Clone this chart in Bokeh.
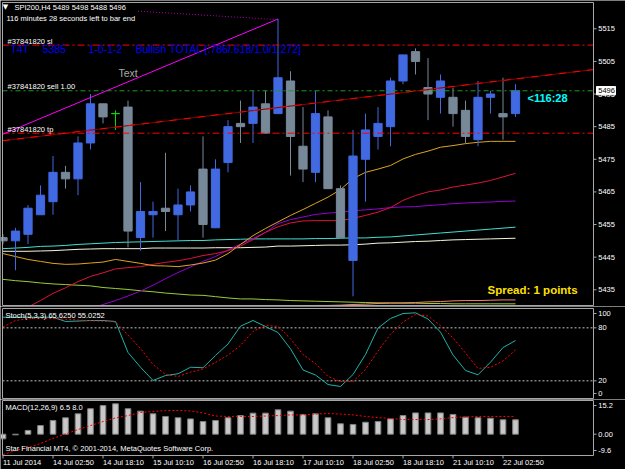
import numpy as np
from bokeh.plotting import figure
from bokeh.layouts import column
from bokeh.models import ColumnDataSource, Range1d, Label
from bokeh.core.properties import value
from bokeh.embed import file_html
from bokeh.resources import INLINE

# ---------------- data ----------------
opens = [5451, 5450, 5452, 5458, 5462, 5471, 5469, 5480, 5492, 5489, 5491, 5451, 5458, 5460,
         5458, 5461, 5472, 5454, 5474, 5486, 5486, 5492, 5489, 5499, 5479, 5471, 5488, 5466,
         5444, 5475, 5482, 5485, 5499, 5508, 5497, 5494, 5494, 5490, 5481, 5494, 5489, 5489]
highs = [5452, 5454, 5461, 5467, 5476, 5473, 5482, 5495, 5492, 5490, 5493, 5468, 5462, 5477,
         5466, 5467, 5482, 5475, 5487, 5493, 5496, 5496, 5518, 5502, 5491, 5496, 5490, 5467,
         5484, 5489, 5491, 5500, 5507, 5509, 5506, 5501, 5497, 5493, 5499, 5496, 5500, 5498]
lows = [5449, 5441, 5449, 5458, 5458, 5466, 5464, 5478, 5486, 5484, 5448, 5447, 5451, 5453,
        5450, 5459, 5451, 5454, 5471, 5480, 5480, 5483, 5489, 5470, 5468, 5468, 5466, 5451,
        5433, 5462, 5478, 5479, 5498, 5501, 5487, 5489, 5485, 5480, 5479, 5489, 5481, 5488]
closes = [5450, 5453, 5460, 5464, 5471, 5469, 5480, 5492, 5488, 5489, 5453, 5459, 5459, 5459,
          5461, 5465, 5455, 5472, 5485, 5485, 5491, 5483, 5500, 5482, 5472, 5489, 5466, 5451,
          5476, 5484, 5486, 5499, 5507, 5505, 5495, 5499, 5489, 5482, 5494, 5495, 5488, 5496]

ma_orange = [5446.1, 5445.2, 5444.3, 5443.7, 5443.1, 5442.8, 5442.9, 5443.2, 5443.5, 5444.3,
             5443.7, 5443.1, 5442.4, 5442.3, 5442.1, 5442.6, 5443.2, 5444.1, 5446.1, 5448.9,
             5451.6, 5453.8, 5455.8, 5457.8, 5459.6, 5461.5, 5463.4, 5465.7, 5469.1, 5471.0,
             5472.0, 5473.1, 5475.1, 5476.5, 5477.5, 5478.7, 5479.2, 5479.8, 5480.2, 5480.5,
             5480.5, 5480.5]
ma_red = [None, 5427.7, 5429.7, 5431.7, 5433.9, 5435.6, 5437.5, 5439.1, 5440.2, 5441.4,
          5441.8, 5442.1, 5442.8, 5443.4, 5443.9, 5444.6, 5445.5, 5446.1, 5447.0, 5448.4,
          5450.4, 5452.6, 5454.3, 5455.5, 5456.1, 5456.2, 5456.2, 5456.2, 5456.9, 5457.8,
          5458.8, 5460.2, 5462.4, 5463.9, 5465.0, 5465.6, 5466.5, 5467.1, 5467.7, 5468.5,
          5469.6, 5470.7]
ma_purple = [None, None, None, None, None, None, 5427.9, 5429.2, 5430.5, 5431.7,
             5433.1, 5434.6, 5436.4, 5438.4, 5440.3, 5442.0, 5443.7, 5445.2, 5447.2, 5449.0,
             5450.7, 5452.6, 5455.3, 5456.5, 5457.3, 5458.1, 5458.5, 5458.8, 5459.2, 5459.5,
             5459.8, 5460.2, 5460.4, 5460.5, 5460.8, 5461.1, 5461.4, 5461.6, 5461.8, 5461.9,
             5462.1, 5462.2]
ma_cyan = [5447.6, 5447.8, 5448.0, 5448.3, 5448.4, 5448.6, 5448.9, 5449.1, 5449.3, 5449.5,
           5449.6, 5449.7, 5449.8, 5449.9, 5450.0, 5450.1, 5450.1, 5450.3, 5450.4, 5450.5,
           5450.6, 5450.6, 5450.6, 5450.6, 5450.6, 5450.7, 5450.7, 5450.8, 5450.9, 5450.9,
           5451.1, 5451.2, 5451.5, 5451.8, 5452.1, 5452.4, 5452.7, 5453.0, 5453.3, 5453.6,
           5453.9, 5454.2]
ma_white = [5446.8, 5446.8, 5446.8, 5446.9, 5447.0, 5447.2, 5447.4, 5447.5, 5447.6, 5447.6,
            5447.6, 5447.6, 5447.8, 5447.8, 5447.8, 5447.8, 5447.8, 5447.9, 5447.9, 5447.9,
            5448.0, 5448.1, 5448.4, 5448.4, 5448.5, 5448.6, 5448.7, 5448.7, 5448.8, 5449.0,
            5449.3, 5449.4, 5449.6, 5449.8, 5449.9, 5450.1, 5450.3, 5450.4, 5450.5, 5450.6,
            5450.7, 5450.8]
ma_yellowgreen = [5438.2, 5437.8, 5437.5, 5437.1, 5436.8, 5436.6, 5436.4, 5436.2, 5435.7, 5435.4,
                  5435.1, 5434.7, 5434.4, 5434.0, 5433.7, 5433.4, 5433.3, 5432.9, 5432.5, 5432.2,
                  5432.2, 5432.0, 5431.9, 5431.7, 5431.6, 5431.5, 5431.4, 5431.3, 5431.2, 5431.1,
                  5431.0, 5431.0, 5430.9, 5430.9, 5430.8, 5430.8, 5430.7, 5430.7, 5430.7, 5430.7,
                  5430.7, 5430.7]
ma_salmon = [None] * 18 + [5429.6, 5429.7, 5429.9, 5429.9, 5430.0, 5430.1, 5430.1, 5430.2,
                           5430.2, 5430.3, 5430.5, 5430.6, 5430.8, 5430.9, 5431.0, 5431.1,
                           5431.3, 5431.4, 5431.6, 5431.7, 5431.7, 5431.8, 5431.9, 5431.9]

stoch_main = [92.0, 92.0, 92.0, 92.0, 92.0, 87.2, 87.7, 88.3, 88.3, 87.2,
              52.1, 35.4, 20.4, 26.0, 28.0, 35.4, 34.8, 48.7, 61.7, 81.9,
              88.3, 81.5, 74.7, 56.3, 32.3, 26.6, 15.8, 13.6, 27.2, 49.8,
              79.8, 90.6, 96.2, 97.0, 90.0, 75.1, 49.2, 31.7, 26.8, 41.1,
              57.7, 65.6]
stoch_signal = [80.9, 88.3, 90.2, 90.8, 90.6, 89.7, 88.8, 88.0, 87.5, 86.6,
                71.9, 56.6, 38.5, 27.2, 24.9, 29.8, 33.4, 40.8, 49.1, 60.0,
                75.9, 82.6, 81.7, 67.6, 49.8, 39.6, 24.9, 19.2, 19.2, 32.8,
                53.8, 72.5, 86.6, 95.1, 93.4, 82.6, 68.5, 51.5, 34.0, 35.4,
                42.5, 55.0]
macd_hist = [-2.1, -0.3, 1.7, 3.9, 6.2, 7.4, 9.2, 11.5, 12.9, 13.7,
             11.5, 10.4, 9.2, 8.0, 7.4, 6.9, 5.7, 6.2, 7.4, 8.4,
             9.5, 9.5, 11.0, 10.4, 8.9, 9.2, 7.4, 4.7, 4.4, 5.4,
             5.7, 6.9, 8.4, 9.6, 9.6, 9.6, 8.9, 7.7, 7.4, 7.2,
             6.5, 6.5]
macd_signal = [-9.2, -7.4, -6.0, -4.2, -1.9, 0.1, 2.1, 3.9, 5.7, 7.3,
               8.4, 9.8, 10.2, 10.7, 10.7, 10.5, 9.6, 8.2, 8.0, 8.0,
               8.0, 8.2, 8.4, 8.7, 8.7, 9.1, 9.3, 9.1, 8.7, 8.0,
               7.5, 7.1, 6.6, 6.6, 6.6, 6.9, 7.5, 7.8, 8.0, 8.0,
               8.0, 8.0]

time_tick_bars = [0, 4, 8, 12, 16, 20, 24, 28, 32, 36, 40]
time_tick_labels = ["11 Jul 2014", "14 Jul 02:50", "14 Jul 18:10", "15 Jul 10:10", "16 Jul 02:50",
                    "16 Jul 18:10", "17 Jul 10:10", "18 Jul 02:50", "18 Jul 18:10", "21 Jul 10:10",
                    "22 Jul 02:50"]
price_ticks = [5435, 5445, 5455, 5465, 5475, 5485, 5495, 5505, 5515]
price_tick_labels = [str(t) for t in price_ticks]
stoch_levels = [20, 80]
stoch_tick_pos = [5.7, 20, 80, 96.2]          # MT4 pulls the 0 / 100 labels inside
stoch_tick_labels = ["0", "20", "80", "100"]
macd_tick_pos = [-7.35, 0, 12.94]              # MT4 pulls the min / max labels inside
macd_tick_labels = ["-9.6", "0.00", "15.2"]
macd_min, macd_max = -9.6, 15.2

sl_price, open_price, tp_price = 5510, 5496, 5483
trend_red_x, trend_red_y = [0, 47.24], [5480.7, 5502.5]
trend_mag_x, trend_mag_y = [0, 22], [5482.7, 5518.0]
trend_dot_x, trend_dot_y = [10.8, 22], [5520.4, 5517.8]
bid = 5496

# ---------------- styling / layout ----------------
FONT = "Liberation Sans"
SMALL = "7.5px"
BORDER = "#A8A8A8"
X_LEFT, X_AXIS = -0.04, 47.24      # left border and price-axis line, in bar units
TICK_LEN, LABEL_DX = 0.24, 0.38
P_TOP, P_BOT = 5523.06, 5430.19    # main window edges (price)
S_TOP, S_BOT = 101.89, 0.0         # stochastic window edges
n = len(opens)
bars = list(range(n))
xr = Range1d(-0.2, 49.8)


def make_fig(height, yr):
    return figure(width=625, height=height, x_range=xr, y_range=yr,
                  x_axis_type=None, y_axis_type=None, toolbar_location=None,
                  output_backend="svg", min_border=0,
                  background_fill_color="black", border_fill_color="black",
                  outline_line_color=None)


def window(p, top, bot):
    p.segment(x0=[X_LEFT, X_LEFT, X_LEFT, X_AXIS], y0=[top, top, bot, top],
              x1=[X_AXIS, X_LEFT, X_AXIS, X_AXIS], y1=[top, bot, bot, bot],
              line_color=BORDER, line_width=1)


def right_ticks(p, pos, labels):
    k = len(pos)
    p.segment(x0=[X_AXIS] * k, y0=pos, x1=[X_AXIS + TICK_LEN] * k, y1=pos,
              line_color=BORDER, line_width=1)
    p.text(x=[X_AXIS + LABEL_DX] * k, y=pos, text=labels, text_color="white",
           text_font=value(FONT), text_font_size=SMALL, text_baseline="middle",
           text_align="left")


def lab(p, x, y, text, color="white", size=SMALL, font=FONT, style="normal", align="left"):
    p.add_layout(Label(x=x, y=y, text=text, text_color=color, text_font_size=size,
                       text_font=font, text_font_style=style, text_align=align,
                       text_baseline="middle"))


# ---------------- main window ----------------
p1 = make_fig(306, Range1d(5429.88, 5523.67))

arr = lambda v: np.array(v, dtype=float)
for vals, col in [(ma_yellowgreen, "#9ACD32"), (ma_salmon, "#FA8072"), (ma_white, "#F5F5DC"),
                  (ma_cyan, "#40E0D0"), (ma_purple, "#9400D3"), (ma_red, "#DC143C"),
                  (ma_orange, "#DAA520")]:
    p1.line(bars, arr(vals), line_color=col, line_width=1)

UP, DN, DOJI = "#4169E1", "#778899", "#00E000"
cols = [UP if c > o else (DN if c < o else DOJI) for o, c in zip(opens, closes)]
src = ColumnDataSource(dict(x=bars, h=highs, l=lows,
                            top=[max(o, c) for o, c in zip(opens, closes)],
                            bot=[min(o, c) for o, c in zip(opens, closes)], col=cols))
p1.segment(x0="x", y0="l", x1="x", y1="h", line_color="col", line_width=1, source=src)
p1.vbar(x="x", width=0.66, top="top", bottom="bot", fill_color="col", line_color="col",
        line_width=1, source=src)

# order lines and trend lines
for lvl, col, dash in [(sl_price, "#FF0000", "7 3 2 3"), (tp_price, "#FF0000", "7 3 2 3"),
                       (open_price, "#1C9A1C", "5 3 2 3")]:
    p1.line([X_LEFT, X_AXIS], [lvl, lvl], line_color=col, line_dash=dash, line_width=1)
p1.line(trend_red_x, trend_red_y, line_color="#8B0000", line_width=1)
p1.line(trend_red_x, trend_red_y, line_color="#FF0000", line_width=1, line_dash="7 7")
p1.line(trend_mag_x, trend_mag_y, line_color="#FF00FF", line_width=1)
p1.line(trend_dot_x, trend_dot_y, line_color="#B000B0", line_width=1, line_dash="1 2")

window(p1, P_TOP, P_BOT)
right_ticks(p1, price_ticks, price_tick_labels)
# bid price box on the price scale
p1.quad(left=[X_AXIS + 0.24], right=[X_AXIS + 1.76], top=[bid + 1.3], bottom=[bid - 1.25],
        fill_color="white", line_color="white")
p1.text(x=[X_AXIS + LABEL_DX], y=[bid], text=[str(bid)], text_color="black",
        text_font=value(FONT), text_font_size=SMALL, text_baseline="middle", text_align="left")

# texts
lab(p1, 0.2, 5521.6, "\u25BC", font="DejaVu Sans", size="7px", align="center")
lab(p1, 0.92, 5521.5, "SPI200,H4  5489 5498 5488 5496")
lab(p1, 0.28, 5518.1, "116 minutes 28 seconds left to bar end")
lab(p1, 0.36, 5511.2, "#37841820 sl")
lab(p1, 0.36, 5497.4, "#37841820 sell 1.00")
lab(p1, 0.36, 5484.2, "#37841820 tp")
for bx, t in [(0.6, "T4T"), (3.16, "5385"), (6.84, "1-0-1-2"),
              (10.6, "Bullish TOTAL [.786/.618/1.0/1.272]")]:
    lab(p1, bx, 5508.9, t, color="#0000FF", size="10.5px")
lab(p1, 9.24, 5501.3, "Text", color="#A9A9A9", size="10.5px")
lab(p1, 41.96, 5493.9, "<116:28", color="#00FFFF", size="11px", style="bold")
lab(p1, 38.76, 5434.8, "Spread: 1 points", color="#FFE000", size="11.5px", style="bold")

# ---------------- stochastic window ----------------
p2 = make_fig(93, Range1d(-1.13, 104.15))
for lvl in stoch_levels:
    p2.line([X_LEFT, X_AXIS], [lvl, lvl], line_color="#C0C0C0", line_dash="2 2", line_width=1)
p2.line(bars, stoch_main, line_color="#20B2AA", line_width=1)
p2.line(bars, stoch_signal, line_color="#FF0000", line_width=1, line_dash="2 2")
window(p2, S_TOP, S_BOT)
right_ticks(p2, stoch_tick_pos, stoch_tick_labels)
lab(p2, 0.2, 94.0, "Stoch(5,3,3) 65.6250 55.0252")

# ---------------- MACD window ----------------
p3 = make_fig(70, Range1d(-15.92, 15.65))
p3.vbar(x=bars, top=macd_hist, bottom=0, width=0.45, fill_color="#C8C8C8",
        line_color="#7F7F7F", line_width=1)
p3.line(bars, macd_signal, line_color="#FF0000", line_width=1, line_dash="2 2")
window(p3, macd_max, macd_min)
right_ticks(p3, macd_tick_pos, macd_tick_labels)
# time scale under the MACD window
k = len(time_tick_bars)
p3.segment(x0=time_tick_bars, y0=[macd_min] * k, x1=time_tick_bars, y1=[macd_min - 1.35] * k,
           line_color=BORDER, line_width=1)
p3.text(x=time_tick_bars, y=[macd_min - 3.16] * k, text=time_tick_labels, text_color="white",
        text_font=value(FONT), text_font_size=SMALL, text_baseline="middle", text_align="left")
lab(p3, 0.2, 11.9, "MACD(12,26,9) 6.5 8.0")
lab(p3, 0.2, -6.6, "Star Financial MT4, \u00A9 2001-2014, MetaQuotes Software Corp.")

layout = column(p1, p2, p3, spacing=0)
open("out.html", "w").write(file_html(layout, INLINE))
